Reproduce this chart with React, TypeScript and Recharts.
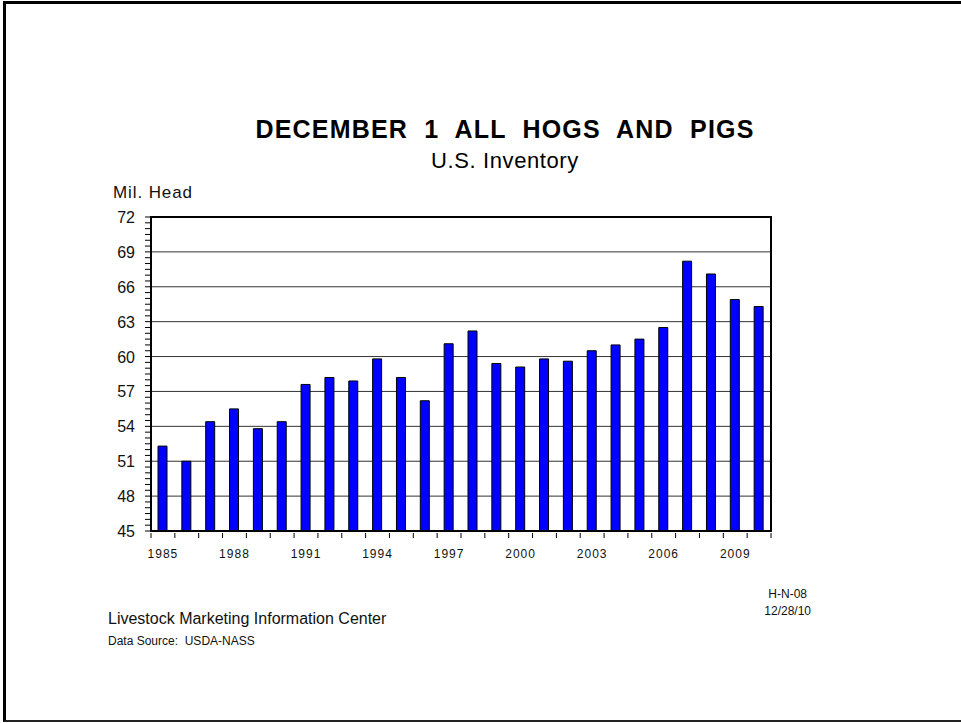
import { BarChart, Bar, XAxis, YAxis, CartesianGrid, ReferenceArea } from "recharts";

// Dec 1 all hogs and pigs, million head
const years = [
  "1985", "1986", "1987", "1988", "1989", "1990", "1991", "1992", "1993",
  "1994", "1995", "1996", "1997", "1998", "1999", "2000", "2001", "2002",
  "2003", "2004", "2005", "2006", "2007", "2008", "2009", "2010",
];
const inventory = [
  52.3, 51.0, 54.4, 55.5, 53.8, 54.4, 57.6, 58.2, 57.9,
  59.8, 58.2, 56.2, 61.1, 62.2, 59.4, 59.1, 59.8, 59.6,
  60.5, 61.0, 61.5, 62.5, 68.2, 67.1, 64.9, 64.3,
];
const yLabels = [45, 48, 51, 54, 57, 60, 63, 66, 69, 72];
const xLabels = ["1985", "1988", "1991", "1994", "1997", "2000", "2003", "2006", "2009"];

const data = years.map((year, i) => ({ year, head: inventory[i] }));
const minorTicks = Array.from({ length: 55 }, (_, i) => 45 + i * 0.5);

const FONT = "'Liberation Sans', Arial, sans-serif";
const PLOT_W = 620;

function YearTick(props: any) {
  const { x, y, payload, index } = props;
  const step = PLOT_W / years.length;
  return (
    <g>
      <line x1={x - step / 2} x2={x - step / 2} y1={y} y2={y + 5} stroke="#000" />
      {index === years.length - 1 && (
        <line x1={x + step / 2} x2={x + step / 2} y1={y} y2={y + 5} stroke="#000" />
      )}
      {xLabels.includes(payload.value) && (
        <text x={x} y={y + 25} textAnchor="middle" fontSize={12} letterSpacing={1}
          fontFamily={FONT} fill="#111">{payload.value}</text>
      )}
    </g>
  );
}

function ValueTick(props: any) {
  const { x, y, payload } = props;
  if (!yLabels.includes(payload.value)) return <g />;
  return (
    <text x={x} y={y + 6} textAnchor="end" fontSize={16} fontFamily={FONT} fill="#111">
      {payload.value}
    </text>
  );
}

export default function App() {
  return (
    <div style={{ position: "absolute", left: 0, top: 0, width: 961, height: 723, background: "#fff", fontFamily: FONT }}>
      <div style={{
        position: "absolute", left: 3, top: 1, width: 958, height: 721, boxSizing: "border-box",
        borderTop: "3px solid #000", borderLeft: "3px solid #000", borderBottom: "2px solid #222",
      }} />
      <BarChart width={961} height={723} data={data}
        margin={{ top: 217, right: 190, bottom: 162, left: 111 }}
        barCategoryGap={0}>
        <CartesianGrid vertical={false} horizontalValues={[48, 51, 54, 57, 60, 63, 66, 69]} stroke="#333" />
        <XAxis dataKey="year" height={30} interval={0} tickSize={0} tickLine={false}
          axisLine={{ stroke: "#000", strokeWidth: 2 }} tick={<YearTick />} />
        <YAxis domain={[45, 72]} ticks={minorTicks} interval={0} width={40} tickSize={6} tickMargin={10}
          tickLine={{ stroke: "#000" }} axisLine={{ stroke: "#000", strokeWidth: 2 }}
          tick={<ValueTick />} allowDataOverflow />
        <Bar dataKey="head" fill="#0000ff" stroke="#000" strokeWidth={1} barSize={9} isAnimationActive={false} />
        <ReferenceArea x1="1985" x2="2010" y1={45} y2={72} fill="none" fillOpacity={0}
          stroke="#000" strokeWidth={2} ifOverflow="visible" />
      </BarChart>
      <svg width={961} height={723} style={{ position: "absolute", left: 0, top: 0, pointerEvents: "none" }}
        fontFamily={FONT}>
        <text x={505} y={138} textAnchor="middle" fontSize={25} fontWeight="bold" letterSpacing={1.2}
          wordSpacing={8} fill="#000">
          DECEMBER 1 ALL HOGS AND PIGS
        </text>
        <text x={505} y={168} textAnchor="middle" fontSize={22} letterSpacing={0.6} fill="#000">U.S. Inventory</text>
        <text x={113} y={198} fontSize={17} letterSpacing={0.9} fill="#111">Mil. Head</text>
        <text x={108} y={624} fontSize={16} fill="#111">Livestock Marketing Information Center</text>
        <text x={108} y={645} fontSize={12} fill="#111" style={{ whiteSpace: "pre" }}>{"Data Source:\u00a0\u00a0USDA-NASS"}</text>
        <text x={807} y={598} textAnchor="end" fontSize={12} fill="#111">H-N-08</text>
        <text x={811} y={615} textAnchor="end" fontSize={12} fill="#111">12/28/10</text>
      </svg>
    </div>
  );
}
